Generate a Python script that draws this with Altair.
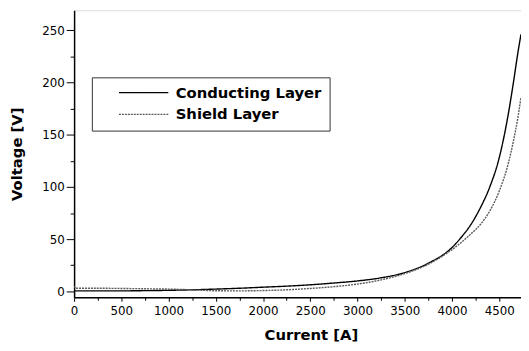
import altair as alt
import pandas as pd

# Conducting layer (solid)
cond_I = [0, 250, 500, 750, 1000, 1250, 1500, 1750, 2000, 2250, 2500, 2750, 3000, 3250,
          3500, 3750, 4000, 4100, 4200, 4300, 4400, 4500, 4600, 4650, 4700, 4730]
cond_V = [0.5, 0.5, 0.5, 0.7, 1.0, 1.5, 2.2, 3.0, 4.0, 5.0, 6.3, 8.0, 10, 13,
          18, 27, 42, 52, 64, 80, 100, 128, 172, 200, 230, 246]

# Shield layer (grey dotted)
sh_I = [0, 20, 250, 500, 750, 1000, 1250, 1500, 1750, 2000, 2250, 2500, 2750, 3000, 3250,
        3500, 3750, 4000, 4100, 4200, 4300, 4400, 4500, 4600, 4650, 4700, 4730]
sh_V = [5, 3, 3, 2.8, 2.5, 2.2, 1.5, 0.6, 0.5, 0.8, 1.5, 2.8, 4.5, 7, 11,
        17, 26, 40, 47, 55, 64, 77, 96, 124, 144, 168, 186]

series = ["Conducting Layer", "Shield Layer"]
x_major = [0, 500, 1000, 1500, 2000, 2500, 3000, 3500, 4000, 4500]
x_minor = [250, 750, 1250, 1750, 2250, 2750, 3250, 3750, 4250]
y_major = [0, 50, 100, 150, 200, 250]
y_minor = [25, 75, 125, 175, 225]

df = pd.concat([
    pd.DataFrame({"I": cond_I, "V": cond_V, "s": series[0], "o": range(len(cond_I))}),
    pd.DataFrame({"I": sh_I, "V": sh_V, "s": series[1], "o": range(len(sh_I))}),
])

FONT = "DejaVu Sans"
xs = alt.Scale(domain=[0, 4730], nice=False, zero=False)
ys = alt.Scale(domain=[-5.7, 269], nice=False, zero=False)

main = alt.Chart(df).mark_line(clip=True, interpolate="monotone").encode(
    x=alt.X("I:Q", scale=xs, axis=alt.Axis(
        values=x_major, format="d", title="Current [A]", tickSize=4, labelPadding=4,
        titlePadding=12, titleX=240, grid=False, labelFontSize=12, titleFontSize=15,
        titleFontWeight="bold", labelFont=FONT, titleFont=FONT,
        domainColor="black", tickColor="black", labelColor="black", titleColor="black",
        domainWidth=1.5, labelFlush=False, labelOverlap=False)),
    y=alt.Y("V:Q", scale=ys, axis=alt.Axis(
        values=y_major, format="d", title="Voltage [V]", tickSize=8, labelPadding=2,
        titlePadding=17, grid=False, labelFontSize=12, titleFontSize=15,
        titleFontWeight="bold", labelFont=FONT, titleFont=FONT,
        domainColor="black", tickColor="black", labelColor="black", titleColor="black",
        domainWidth=1.5, labelFlush=False, labelOverlap=False)),
    order="o:Q",
    color=alt.Color("s:N", scale=alt.Scale(domain=series, range=["black", "#5a5a5a"]),
                    legend=alt.Legend(
                        title=None, orient="none", legendX=18, legendY=68,
                        symbolType="M-5,0H5", symbolSize=100, symbolStrokeWidth=1.3,
                        symbolOffset=37, labelOffset=25,
                        labelFont=FONT, labelFontSize=15, labelFontWeight="bold",
                        labelColor="black", strokeColor="#333", fillColor="white",
                        padding=8, rowPadding=6, labelLimit=400)),
    strokeDash=alt.StrokeDash("s:N", scale=alt.Scale(domain=series, range=[[1, 0], [2, 1]]),
                              legend=None),
    strokeWidth=alt.value(1.4),
)

minor = alt.Chart(df).mark_point(opacity=0).encode(
    x=alt.X("I:Q", scale=xs, axis=alt.Axis(
        values=x_minor, labels=False, domain=False, title=None, tickSize=3,
        grid=False, tickColor="black", orient="bottom")),
    y=alt.Y("V:Q", scale=ys, axis=alt.Axis(
        values=y_minor, labels=False, domain=False, title=None, tickSize=4,
        grid=False, tickColor="black", orient="left")),
)

chart = alt.layer(main, minor).resolve_axis(x="independent", y="independent").properties(
    width=453, height=291,
    autosize=alt.AutoSizeParams(type="none"),
    padding={"left": 67, "top": 0, "right": 0, "bottom": 44},
).configure_view(stroke=None).configure(background="white")

chart.save("out.html", embed_options={"renderer": "svg", "actions": False})
